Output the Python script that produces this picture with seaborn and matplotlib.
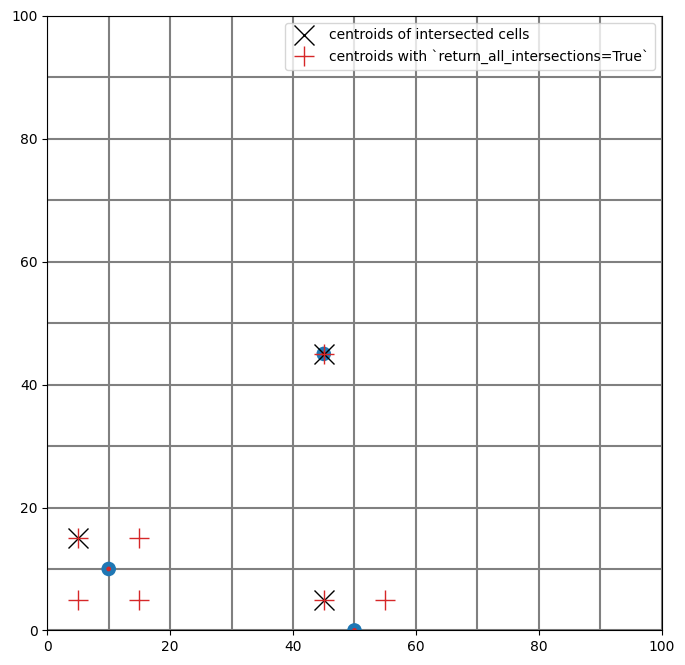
import numpy as np
import matplotlib
matplotlib.use("Agg")
import matplotlib.pyplot as plt
import seaborn as sns

# cell edges of the 10x10 grid
edges = list(range(0, 101, 10))

# query points
pts_x = [10, 45, 50]
pts_y = [10, 45, 0]

# centroids of intersected cells
cx = [5, 45, 45]
cy = [15, 45, 5]

# centroids with return_all_intersections=True
ax_x = [5, 15, 5, 15, 45, 45, 55]
ax_y = [5, 5, 15, 15, 45, 5, 5]

fig, ax = plt.subplots(figsize=(6.85, 6.65), dpi=100)
for e in edges:
    ax.plot([e, e], [0, 100], color="gray", lw=1.5, zorder=1)
    ax.plot([0, 100], [e, e], color="gray", lw=1.5, zorder=1)

sns.scatterplot(x=pts_x, y=pts_y, s=110, color="#1f77b4", edgecolor="none", ax=ax, zorder=2)
sns.scatterplot(x=pts_x, y=pts_y, s=12, color="#d62728", edgecolor="none", ax=ax, zorder=3)
ax.plot(cx, cy, "x", color="black", ms=15, mew=1, ls="none",
        label="centroids of intersected cells", zorder=4)
ax.plot(ax_x, ax_y, "+", color="#d62728", ms=15, mew=1, ls="none",
        label="centroids with `return_all_intersections=True`", zorder=5)

ax.set_xlim(0, 100)
ax.set_ylim(0, 100)
ax.set_aspect("equal")
ax.legend(loc="upper right")
fig.subplots_adjust(left=0.069, right=0.966, bottom=0.051, top=0.977)
fig.savefig("out.png")
